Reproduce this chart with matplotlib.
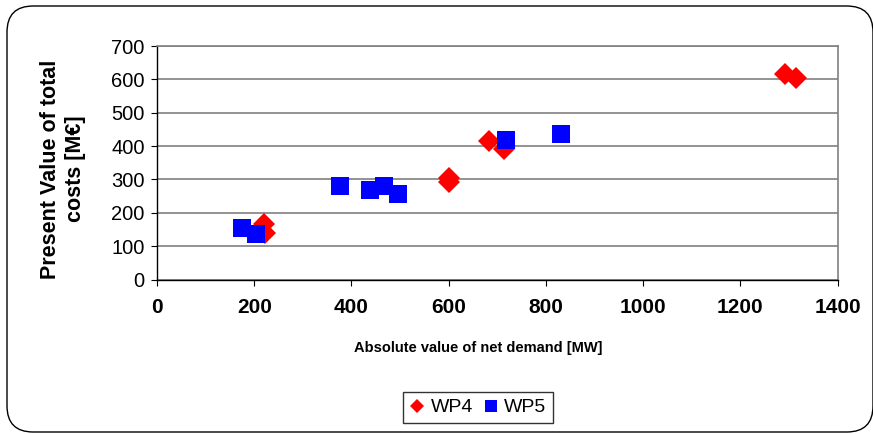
import matplotlib.pyplot as plt
from matplotlib.patches import FancyBboxPatch

plt.rcParams['font.family'] = ['Liberation Sans', 'DejaVu Sans']

# WP4 series (red diamonds)
wp4_x = [221, 223, 600, 600, 683, 713, 1291, 1315]
wp4_y = [166, 140, 305, 291, 415, 392, 616, 604]

# WP5 series (blue squares)
wp5_x = [175, 204, 377, 438, 468, 496, 719, 831]
wp5_y = [154, 136, 279, 267, 279, 255, 418, 436]

x_ticks = [0, 200, 400, 600, 800, 1000, 1200, 1400]
y_ticks = [0, 100, 200, 300, 400, 500, 600, 700]

fig = plt.figure(figsize=(8.73, 4.34), dpi=100)

# rounded frame around the whole chart
frame = FancyBboxPatch((7 / 873, 2 / 434), 866 / 873, 426 / 434,
                       boxstyle='round,pad=0,rounding_size=0.03',
                       transform=fig.transFigure, facecolor='white',
                       edgecolor='black', linewidth=1.0, mutation_aspect=873 / 434,
                       zorder=-10)
fig.patches.append(frame)

ax = fig.add_axes([157 / 873, 1 - 279.5 / 434, 680.5 / 873, 233.5 / 434])
ax.set_facecolor('none')

ax.plot(wp4_x, wp4_y, linestyle='none', marker='D', markersize=11.5,
        color='#ff0000', markeredgewidth=0, label='WP4', zorder=3)
ax.plot(wp5_x, wp5_y, linestyle='none', marker='s', markersize=13.5,
        color='#0000ff', markeredgewidth=0, label='WP5', zorder=4)

ax.set_xlim(0, 1400)
ax.set_ylim(0, 700)
ax.set_xticks(x_ticks)
ax.set_yticks(y_ticks)
ax.grid(axis='y', color='#808080', linewidth=1.2)
ax.set_axisbelow(True)

for s in ['top', 'right']:
    ax.spines[s].set_color('#808080')
    ax.spines[s].set_linewidth(1.2)
for s in ['left', 'bottom']:
    ax.spines[s].set_color('black')
    ax.spines[s].set_linewidth(1.0)

ax.tick_params(axis='y', direction='out', length=4, labelsize=14.5, pad=5)
ax.tick_params(axis='x', direction='out', length=4, labelsize=15, pad=9)
for lbl in ax.get_xticklabels():
    lbl.set_fontweight('bold')

fig.text(63 / 873, 1 - 169 / 434, 'Present Value of total\ncosts [M€]',
         rotation=90, ha='center', va='center', fontsize=15.5,
         fontweight='bold', linespacing=1.25)

fig.text(478 / 873, 1 - 348 / 434, 'Absolute value of net demand [MW]',
         ha='center', va='center', fontsize=10.5, fontweight='bold')

leg = fig.legend(loc='center', bbox_to_anchor=(478 / 873, 1 - 407.5 / 434),
                 ncol=2, fontsize=14, frameon=True, fancybox=False,
                 handlelength=0.8, handletextpad=0.3, columnspacing=0.5,
                 borderpad=0.35, markerscale=0.6)
leg.get_frame().set_edgecolor('black')
leg.get_frame().set_linewidth(1.0)

plt.savefig('out.png', dpi=100)
